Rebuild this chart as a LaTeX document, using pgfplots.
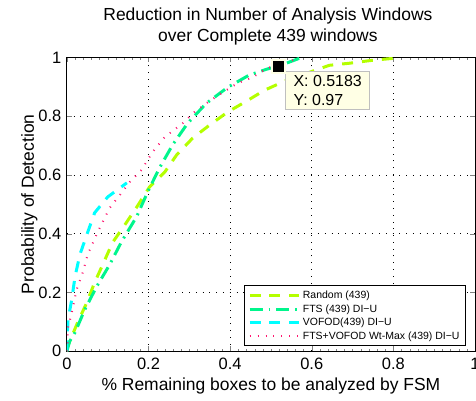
\documentclass[border=0pt]{standalone}
\usepackage{fontspec}
\setmainfont{Liberation Sans}
\usepackage{pgfplots}
\pgfplotsset{compat=1.18}

\definecolor{cRandom}{RGB}{180,255,0}
\definecolor{cFTS}{RGB}{0,245,140}
\definecolor{cVOFOD}{RGB}{0,255,255}
\definecolor{cBoth}{RGB}{255,20,110}
\definecolor{tipbg}{RGB}{255,255,229}

\begin{document}
\begin{tikzpicture}
\begin{axis}[
    name=main,
    at={(0,0)}, anchor=origin,
    scale only axis,
    width=409pt, height=294.5pt,
    xmin=0, xmax=1, ymin=0, ymax=1,
    xtick={0,0.2,0.4,0.6,0.8,1},
    ytick={0,0.2,0.4,0.6,0.8,1},
    minor x tick num=9,
    tick align=inside,
    major tick length=5pt,
    minor tick length=2.5pt,
    xticklabel style={/pgf/number format/fixed, yshift=-3pt},
    yticklabel style={/pgf/number format/fixed, xshift=-2pt},
    /pgf/number format/assume math mode=true,
    tick label style={font=\fontsize{16.5}{16.5}\selectfont},
    grid=major,
    major grid style={black, line width=0.8pt, dash pattern=on 0.8pt off 6pt},
    axis line style={black, line width=1pt},
    title={Reduction in Number of Analysis Windows\\over Complete 439 windows},
    title style={font=\fontsize{17.5}{21}\selectfont, align=center, yshift=3pt, xshift=-3pt},
    xlabel={\% Remaining boxes to be analyzed by FSM},
    ylabel={Probability of Detection},
    label style={font=\fontsize{17.5}{17.5}\selectfont},
    xlabel style={yshift=-2pt},
    ylabel style={yshift=-6pt},
    legend style={at={(0.978,0.017)}, anchor=south east,
        font=\fontsize{10.5}{10.5}\selectfont,
        draw=black, line width=1pt, row sep=0.5pt,
        inner xsep=4pt, inner ysep=3pt},
    legend cell align=left,
    legend image code/.code={\draw[#1] (0pt,0pt) -- (50pt,0pt);},
]
\addplot[cRandom, line width=3pt, dash pattern=on 11pt off 9pt] coordinates {
(0,0) (0.002,0.017) (0.027,0.10) (0.049,0.166) (0.068,0.234) (0.088,0.295)
(0.112,0.37) (0.142,0.43) (0.171,0.49) (0.203,0.56) (0.24,0.61) (0.269,0.668)
(0.308,0.725) (0.35,0.77) (0.394,0.814) (0.44,0.851) (0.484,0.888) (0.538,0.922)
(0.594,0.949) (0.643,0.973) (0.692,0.98) (0.748,0.99) (0.802,0.997)
};
\addlegendentry{Random (439)}

\addplot[cFTS, line width=3pt, dash pattern=on 13pt off 6pt on 2pt off 6pt] coordinates {
(0,0) (0.007,0.034) (0.02,0.064) (0.044,0.142) (0.073,0.22) (0.105,0.295)
(0.134,0.373) (0.171,0.458) (0.198,0.542) (0.227,0.624) (0.259,0.702)
(0.296,0.776) (0.342,0.844) (0.394,0.898) (0.447,0.94) (0.49,0.96)
(0.5183,0.97) (0.57,0.997)
};
\addlegendentry{FTS (439) DI−U}

\addplot[cVOFOD, line width=3pt, dash pattern=on 11pt off 9pt] coordinates {
(0,0) (0.0,0.03) (0.003,0.108) (0.012,0.176) (0.02,0.254) (0.032,0.329)
(0.049,0.397) (0.068,0.471) (0.1,0.525) (0.147,0.573)
};
\addlegendentry{VOFOD(439) DI−U}

\addplot[cBoth, line width=2pt, dash pattern=on 1pt off 7pt] coordinates {
(0,0) (0.002,0.014) (0.002,0.075) (0.012,0.132) (0.024,0.21) (0.039,0.268)
(0.051,0.329) (0.076,0.407) (0.105,0.488) (0.13,0.532) (0.154,0.576)
(0.183,0.617) (0.21,0.678) (0.24,0.729) (0.284,0.776) (0.313,0.814)
(0.345,0.847) (0.379,0.878) (0.418,0.912) (0.455,0.932) (0.491,0.963)
(0.553,0.99) (0.57,0.997)
};
\addlegendentry{FTS+VOFOD Wt-Max (439) DI−U}

% data tip
\addplot[only marks, mark=square*, mark size=6.5pt,
    mark options={fill=black, draw=tipbg, line width=2pt}, forget plot]
    coordinates {(0.5183,0.97)};
\node[anchor=north west, fill=tipbg, draw=black!25, line width=0.8pt,
    align=left, inner xsep=5pt, inner ysep=4pt,
    font=\fontsize{16}{19}\selectfont, minimum width=84pt]
    at ([xshift=7pt,yshift=-5pt]axis cs:0.5183,0.97) {X: 0.5183\\Y: 0.97};
\end{axis}
\pgfresetboundingbox
\path[use as bounding box] (-67pt,-49pt) rectangle (410pt,352pt);
\end{tikzpicture}
\end{document}
